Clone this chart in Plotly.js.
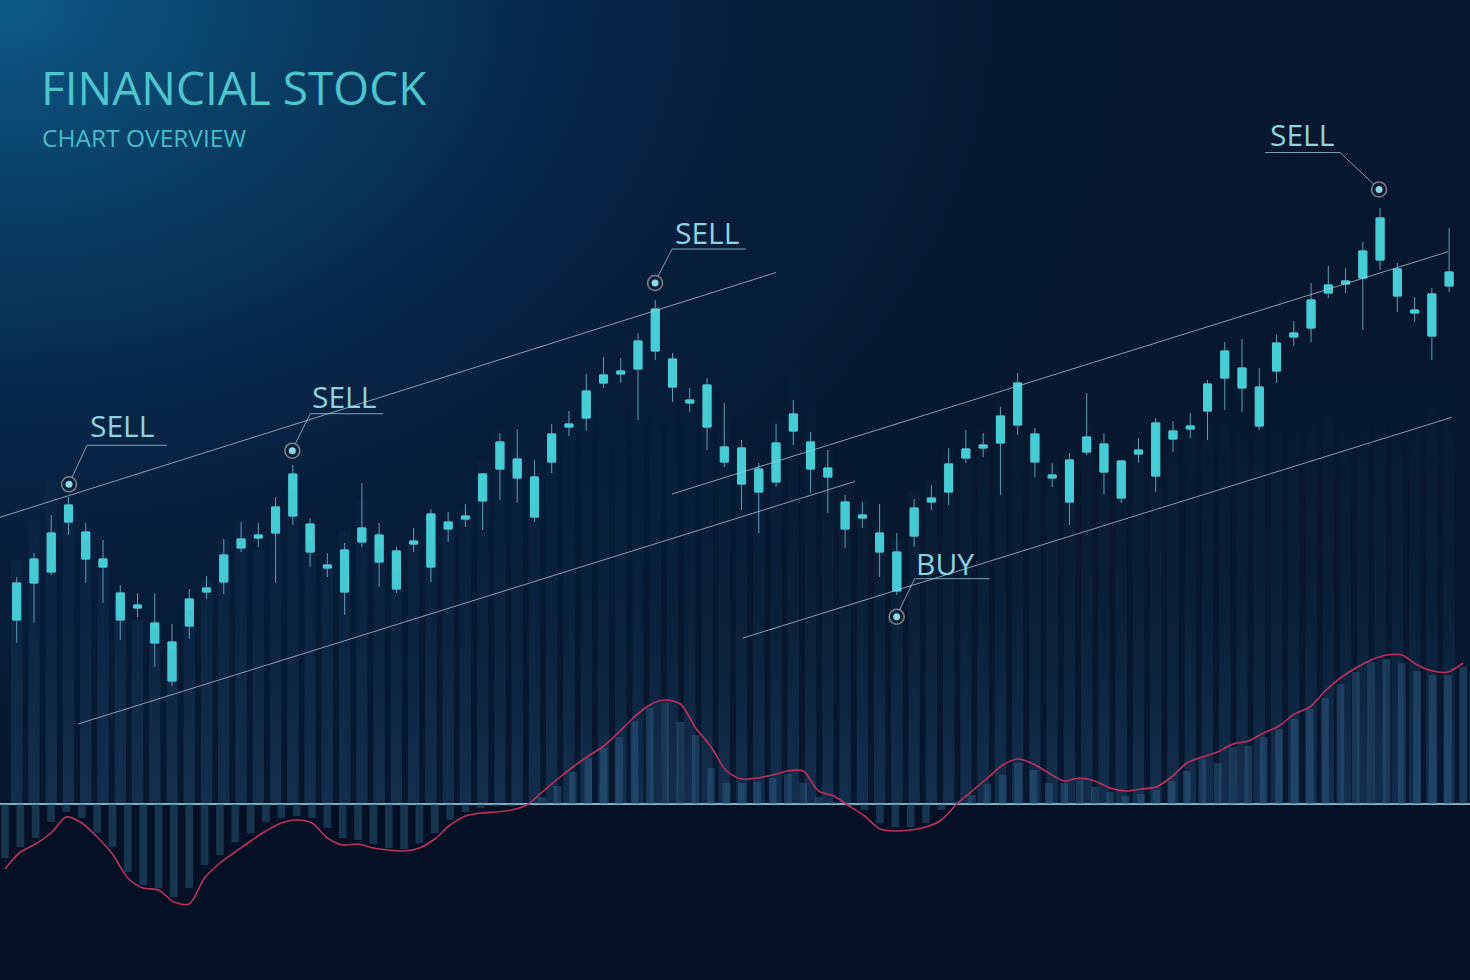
<!DOCTYPE html>
<html>
<head>
<meta charset="utf-8">
<script src="https://cdn.plot.ly/plotly-3.0.1.min.js"></script>
<style>
  html, body { margin: 0; padding: 0; background: #061a33; }
  #chart {
    width: 1470px; height: 980px;
    background:
      radial-gradient(ellipse 1150px 820px at 0px 0px, #0d5a86 0%, #0a4169 22%, #082b4e 45%, #071d3a 68%, #06172f 100%);
  }
</style>
</head>
<body>
<div id="chart"></div>
<script>
// ---------------- DATA ----------------
// Candles (price units)
const open  = [36.0,39.7,40.8,45.8,44.8,42.1,38.7,37.5,35.7,33.8,35.4,38.8,39.8,43.2,44.2,44.7,46.4,45.6,41.5,43.0,
               43.8,44.5,42.9,43.6,41.3,45.1,46.1,47.9,51.1,52.1,50.3,51.8,55.3,56.2,59.7,60.6,61.1,62.9,62.1,58.0,
               59.5,53.3,53.2,51.1,49.8,54.9,53.8,51.2,47.8,46.2,44.7,42.8,44.4,47.8,48.8,52.2,53.2,53.7,55.5,54.6,
               50.5,52.0,52.8,53.6,51.9,52.6,55.7,54.1,55.1,56.9,60.2,61.2,59.3,60.9,64.3,65.2,68.7,69.6,70.2,72.0,
               71.1,67.0,68.6,69.4];
const close = [39.7,42.1,44.7,47.5,42.1,41.3,36.0,37.2,33.7,29.9,38.1,39.2,42.5,44.1,44.5,47.3,50.6,42.8,41.2,38.8,
               45.2,41.8,39.1,43.9,46.6,45.8,46.4,50.6,53.8,50.2,46.3,54.6,55.6,58.9,60.5,60.9,63.9,67.1,59.3,57.7,
               55.3,51.8,49.6,48.8,53.7,56.6,51.1,50.3,45.1,46.5,42.8,38.9,47.2,48.2,51.6,53.1,53.5,56.4,59.7,51.8,
               50.2,47.8,54.3,50.8,48.2,53.0,50.4,54.9,55.4,59.6,62.9,59.2,55.4,63.7,64.7,68.0,69.5,69.9,72.9,76.2,
               68.4,66.7,64.4,70.8];
const high  = [40.3,42.7,46.5,48.3,45.7,44.0,39.5,38.7,38.7,35.6,39.1,40.4,44.1,45.8,45.7,48.3,51.5,46.2,42.7,43.7,
               49.7,45.7,43.3,45.2,47.1,46.8,47.6,50.7,54.7,55.1,52.0,55.6,56.9,60.6,62.3,62.2,64.7,68.0,62.7,59.2,
               60.2,57.7,54.0,51.7,55.6,58.0,54.8,53.0,48.5,47.8,47.6,44.7,48.1,49.5,53.2,55.0,54.7,57.3,60.7,55.2,
               51.7,52.7,58.7,54.7,52.0,54.2,56.2,55.9,56.7,60.0,63.8,64.1,61.2,64.5,65.9,69.7,71.4,71.2,73.8,77.2,
               71.7,68.3,69.2,75.2];
const low   = [33.7,35.7,40.5,44.5,39.7,37.7,34.0,36.3,31.3,29.4,34.1,38.1,38.6,42.8,43.3,39.7,45.5,41.3,40.3,36.5,
               43.3,39.3,38.7,42.8,39.8,43.8,45.3,45.0,48.0,47.7,45.8,50.7,54.4,54.9,59.2,59.7,56.0,62.0,57.8,56.8,
               53.0,51.3,47.0,44.7,49.3,53.5,48.7,46.7,43.2,45.2,40.3,38.5,43.3,47.0,47.5,51.7,52.3,48.5,54.5,50.3,
               49.3,45.5,52.5,48.5,47.7,51.7,48.8,52.8,54.2,54.0,57.0,56.8,55.0,59.7,63.4,63.8,68.2,68.7,65.0,71.0,
               66.8,65.8,62.0,68.8];
// faint background volume-like columns (top, price units)
const volumeTop = [42,46,50,47,44,41,38,36,35,33,37,40,44,46,43,47,49,44,42,45,
                   48,43,41,44,46,45,47,52,55,53,50,55,57,61,63,60,64,66,60,57,
                   58,56,54,51,56,63,57,53,50,48,46,44,49,50,53,54,55,58,60,54,
                   52,53,57,54,51,54,56,55,57,59,63,62,60,64,66,68,70,71,72,74,
                   70,66,68,70];
const volumeBase = 17.6;

// MACD histogram and signal line (lower panel)
const macdHist = [-5.4,-4.3,-3.4,-1.8,-0.8,-1.4,-2.9,-4.3,-6.8,-8.1,-8.4,-9.3,-8.4,-6.1,-5.1,-3.8,-2.9,-1.8,-1.4,-1.2,
                  -1.4,-2.4,-3.4,-3.6,-4.0,-4.4,-4.5,-3.9,-2.9,-1.6,-0.8,-0.4,-0.2,-0.2,-0.1,0.7,1.8,3.2,4.6,5.6,
                  6.7,8.3,9.6,10.2,8.2,6.9,3.6,2.1,2.1,2.2,2.6,3.0,2.1,0.7,0.2,-0.2,-0.6,-1.9,-2.3,-2.3,
                  -1.9,-0.6,0.2,0.9,2.0,2.9,4.1,3.4,2.1,2.1,2.5,1.7,1.2,0.8,1.0,1.4,2.3,3.3,4.5,4.1,
                  5.7,5.8,6.7,7.5,8.5,9.5,10.6,12.0,13.2,14.2,14.5,14.1,13.3,12.9,12.9,13.7];
const macdSignal = [-6.5,-4.8,-4.0,-2.9,-1.3,-1.9,-3.3,-5.0,-7.4,-8.4,-8.6,-9.8,-10.0,-7.4,-5.9,-4.8,-3.7,-2.7,-1.9,-1.6,
                    -1.9,-3.4,-4.1,-4.0,-4.4,-4.6,-4.7,-4.4,-3.5,-2.1,-1.2,-0.9,-0.8,-0.6,-0.1,1.2,2.5,3.7,4.8,5.8,
                    7.2,8.7,9.9,10.4,10.0,7.6,5.7,3.3,2.5,2.6,2.9,3.3,3.3,1.3,0.8,-0.2,-1.2,-2.5,-2.7,-2.6,
                    -2.3,-1.6,0.0,1.3,2.6,3.9,4.5,4.0,3.1,2.3,2.6,2.3,1.6,1.3,1.5,1.7,2.7,4.1,4.7,5.2,
                    6.0,6.3,7.1,7.8,9.0,9.7,11.3,12.6,13.6,14.4,14.9,14.9,13.9,13.3,13.2,14.1];

// Trend channels (candle number, price)
const channelStartDay   = [0.03, 4.55, 38.97, 43.09];
const channelStartPrice = [46.27, 25.6, 48.6, 34.2];
const channelEndDay     = [45.0, 49.58, 83.94, 84.15];
const channelEndPrice   = [70.75, 49.86, 72.83, 56.27];

// Trade signals
const signalDay   = [4.03, 16.97, 37.99, 79.94, 51.99];
const signalPrice = [49.57, 52.93, 69.7, 79.05, 36.33];
const signalLabel = ['SELL', 'SELL', 'SELL', 'SELL', 'BUY'];

const titleText = 'FINANCIAL STOCK';
const subtitleText = 'CHART OVERVIEW';

// ---------------- BUILD ----------------
const days = open.map((_, i) => i + 1);
const macdIdx = macdHist.map((_, i) => i);
const bodyHigh = open.map((o, i) => Math.max(o, close[i]));
const bodyLow  = open.map((o, i) => Math.min(o, close[i]));

// volume columns as separate closed polygons (so a vertical fade can be applied)
const volHalf = 0.33;
const volX = [], volY = [];
days.forEach((d, i) => {
  volX.push(d - volHalf, d - volHalf, d + volHalf, d + volHalf, null);
  volY.push(volumeBase, volumeTop[i], volumeTop[i], volumeBase, null);
});

const CYAN = '#43cfd5';
const WICK = '#5f9fb2';
const LABEL = '#8ed3de';

const traces = [];

traces.push({
  type: 'scatter', x: volX, y: volY, mode: 'lines', fill: 'toself',
  line: {width: 0}, hoverinfo: 'skip', showlegend: false,
  fillcolor: 'rgba(70,140,190,0.08)',
  fillgradient: {type: 'vertical', start: volumeBase, stop: 62,
    colorscale: [[0, 'rgba(70,140,195,0.20)'], [0.45, 'rgba(70,140,195,0.07)'], [1, 'rgba(70,140,195,0.0)']]}
});

channelStartDay.forEach((d, i) => {
  traces.push({
    type: 'scatter', mode: 'lines', x: [d, channelEndDay[i]], y: [channelStartPrice[i], channelEndPrice[i]],
    line: {color: 'rgba(175,205,220,0.75)', width: 1}, hoverinfo: 'skip', showlegend: false
  });
});

// wicks
traces.push({
  type: 'candlestick', x: days, open: open, close: close, high: high, low: low,
  increasing: {line: {color: WICK, width: 1}, fillcolor: WICK},
  decreasing: {line: {color: WICK, width: 1}, fillcolor: WICK},
  hoverinfo: 'skip', showlegend: false
});
// bodies
traces.push({
  type: 'candlestick', x: days, open: open, close: close, high: bodyHigh, low: bodyLow,
  increasing: {line: {color: CYAN, width: 1}, fillcolor: CYAN},
  decreasing: {line: {color: CYAN, width: 1}, fillcolor: CYAN},
  hoverinfo: 'skip', showlegend: false
});

// signal markers
traces.push({
  type: 'scatter', mode: 'markers', x: signalDay, y: signalPrice,
  marker: {symbol: 'circle-open', size: 15, line: {color: '#93cfdb', width: 1.6}},
  hoverinfo: 'skip', showlegend: false
});
traces.push({
  type: 'scatter', mode: 'markers', x: signalDay, y: signalPrice,
  marker: {symbol: 'circle', size: 7, color: '#8fd6e0'},
  hoverinfo: 'skip', showlegend: false
});

// MACD
traces.push({
  type: 'bar', x: macdIdx, y: macdHist, xaxis: 'x2', yaxis: 'y2', width: 0.5,
  marker: {color: 'rgba(48,98,135,0.45)', line: {width: 0}},
  hoverinfo: 'skip', showlegend: false
});
traces.push({
  type: 'scatter', mode: 'lines', x: macdIdx, y: macdSignal, xaxis: 'x2', yaxis: 'y2',
  line: {color: '#c0305a', width: 1.6, shape: 'spline', smoothing: 0.8},
  hoverinfo: 'skip', showlegend: false
});

// label geometry (pixel offsets from each signal point)
const labelGeom = [
  {diag: [[3, 7], [18, 39]], under: [18, 98], uy: 39, text: [53, 59]},
  {diag: [[3, 7], [18, 37]], under: [18, 91], uy: 37, text: [52, 54]},
  {diag: [[3, 7], [17, 34]], under: [17, 91], uy: 34, text: [52, 51]},
  {diag: [[-5, 5], [-39, 37]], under: [-39, -114], uy: 37, text: [-77, 55]},
  {diag: [[3, 7], [18, 38]], under: [18, 93], uy: 38, text: [48, 53]}
];

const shapes = [];
const annotations = [];
signalDay.forEach((d, i) => {
  const g = labelGeom[i];
  const base = {type: 'line', xref: 'x', yref: 'y', xsizemode: 'pixel', ysizemode: 'pixel',
                xanchor: d, yanchor: signalPrice[i], line: {color: 'rgba(150,195,210,0.8)', width: 1}};
  shapes.push(Object.assign({}, base, {x0: g.diag[0][0], y0: g.diag[0][1], x1: g.diag[1][0], y1: g.diag[1][1]}));
  shapes.push(Object.assign({}, base, {x0: g.under[0], y0: g.uy, x1: g.under[1], y1: g.uy}));
  annotations.push({
    xref: 'x', yref: 'y', x: d, y: signalPrice[i], xshift: g.text[0], yshift: g.text[1],
    text: signalLabel[i], showarrow: false, xanchor: 'center', yanchor: 'middle',
    font: {family: 'Open Sans, Noto Sans, sans-serif', size: 30, color: LABEL}
  });
});

// darker band under the zero line
shapes.push({type: 'rect', xref: 'paper', yref: 'y2', x0: 0, x1: 1, y0: -17.6, y1: 0,
             fillcolor: 'rgba(3,10,24,0.45)', line: {width: 0}, layer: 'below'});

annotations.push({
  xref: 'paper', yref: 'paper', x: 39 / 1470, y: 1 - 87 / 980, xanchor: 'left', yanchor: 'middle',
  text: titleText, showarrow: false,
  font: {family: 'Open Sans, Noto Sans, sans-serif', size: 46, color: '#4cc5cf'}
});
annotations.push({
  xref: 'paper', yref: 'paper', x: 40 / 1470, y: 1 - 137 / 980, xanchor: 'left', yanchor: 'middle',
  text: subtitleText, showarrow: false,
  font: {family: 'Open Sans, Noto Sans, sans-serif', size: 24.5, color: '#48bccb'}
});

const layout = {
  width: 1470, height: 980,
  margin: {l: 0, r: 0, t: 0, b: 0, pad: 0},
  paper_bgcolor: 'rgba(0,0,0,0)', plot_bgcolor: 'rgba(0,0,0,0)',
  showlegend: false, boxgap: 0.34, bargap: 0.5,
  xaxis: {range: [0.032, 85.21], visible: false, fixedrange: true, rangeslider: {visible: false}},
  yaxis: {range: [0, 98], visible: false, fixedrange: true},
  xaxis2: {range: [-0.326, 95.44], overlaying: 'x', visible: false, fixedrange: true},
  yaxis2: {range: [-17.6, 80.4], overlaying: 'y', fixedrange: true,
           showgrid: false, showticklabels: false, ticks: '', showline: false,
           zeroline: true, zerolinecolor: '#7fb3c3', zerolinewidth: 2},
  shapes: shapes,
  annotations: annotations
};

Plotly.newPlot('chart', traces, layout, {staticPlot: true, displayModeBar: false});
</script>
</body>
</html>
